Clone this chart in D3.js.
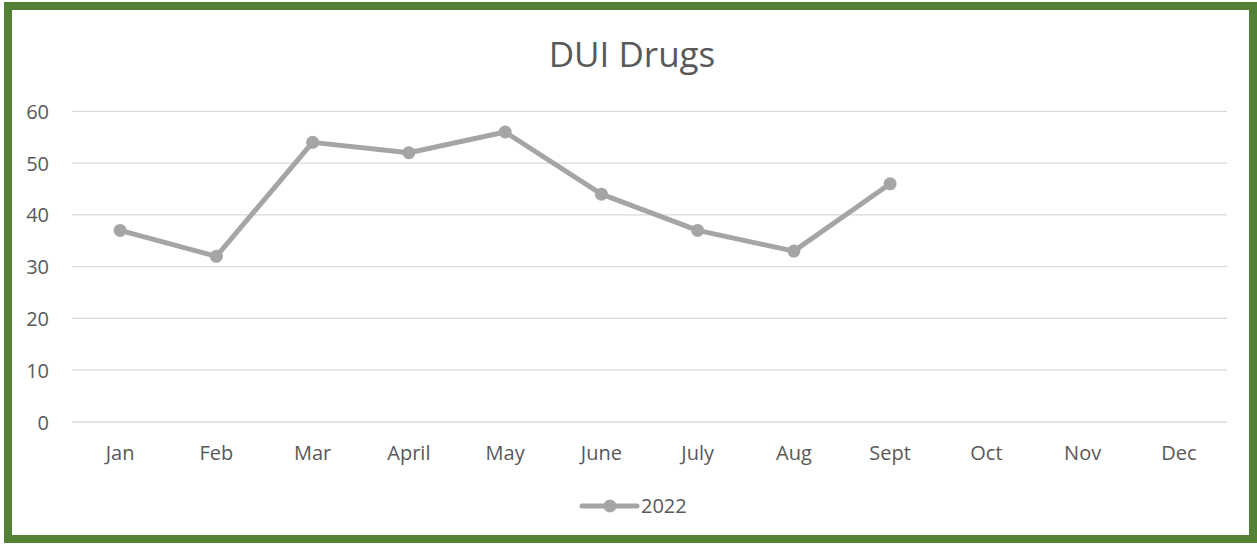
<!DOCTYPE html>
<html>
<head>
<meta charset="utf-8">
<script src="https://cdn.jsdelivr.net/npm/d3@7"></script>
<style>
  html, body { margin: 0; padding: 0; background: #fff; }
  svg { display: block; }
  text { font-family: "Segoe UI", "Open Sans", "Noto Sans", sans-serif; fill: #595959; }
</style>
</head>
<body>
<svg id="chart" width="1257" height="545"></svg>
<script>
const title = "DUI Drugs";
const categories = ["Jan", "Feb", "Mar", "April", "May", "June", "July", "Aug", "Sept", "Oct", "Nov", "Dec"];
const seriesName = "2022";
const values = [37, 32, 54, 52, 56, 44, 37, 33, 46, null, null, null];
const yTicks = [0, 10, 20, 30, 40, 50, 60];

(function () {
const svg = d3.select("#chart");
const W = 1257, H = 545;

svg.append("rect").attr("x", 0).attr("y", 0).attr("width", W).attr("height", H).attr("fill", "#fff");
svg.append("rect").attr("x", 8).attr("y", 6).attr("width", 1245).attr("height", 533)
  .attr("fill", "none").attr("stroke", "#548235").attr("stroke-width", 8);

const pl = 72, pr = 1227, pt = 111.3, pb = 422;
const x = d3.scaleBand().domain(categories).range([pl, pr]);
const y = d3.scaleLinear().domain([0, 60]).range([pb, pt]);

svg.append("text").attr("x", 632).attr("y", 67).attr("text-anchor", "middle")
  .style("font-size", "35px").text(title);

const grid = svg.append("g");
grid.selectAll("line").data(yTicks).join("line")
  .attr("x1", pl).attr("x2", pr)
  .attr("y1", d => y(d)).attr("y2", d => y(d))
  .attr("stroke", "#d9d9d9").attr("stroke-width", 1.3);

const yAxis = d3.axisLeft(y).tickValues(yTicks).tickSize(0).tickPadding(0);
const gy = svg.append("g").attr("transform", `translate(49,0)`).call(yAxis);
gy.select(".domain").remove();
gy.selectAll("text").style("font-size", "20px").attr("fill", "#595959").attr("dy", "0.35em");

const xAxis = d3.axisBottom(x).tickSize(0).tickPadding(0);
const gx = svg.append("g").attr("transform", `translate(0,${pb + 31})`).call(xAxis);
gx.select(".domain").remove();
gx.selectAll("text").style("font-size", "20px").attr("fill", "#595959").attr("dy", "0.35em");

const pts = categories.map((c, i) => ({c, v: values[i]})).filter(d => d.v != null);
const line = d3.line().x(d => x(d.c) + x.bandwidth() / 2).y(d => y(d.v));
svg.append("path").datum(pts).attr("d", line)
  .attr("fill", "none").attr("stroke", "#a5a5a5").attr("stroke-width", 5)
  .attr("stroke-linejoin", "round").attr("stroke-linecap", "round");
svg.append("g").selectAll("circle").data(pts).join("circle")
  .attr("cx", d => x(d.c) + x.bandwidth() / 2).attr("cy", d => y(d.v))
  .attr("r", 6.5).attr("fill", "#a5a5a5");

const lg = svg.append("g");
lg.append("line").attr("x1", 582).attr("x2", 637).attr("y1", 506).attr("y2", 506)
  .attr("stroke", "#a5a5a5").attr("stroke-width", 5).attr("stroke-linecap", "round");
lg.append("circle").attr("cx", 610).attr("cy", 506).attr("r", 6.5).attr("fill", "#a5a5a5");
lg.append("text").attr("x", 641).attr("y", 506).attr("dy", "0.35em")
  .style("font-size", "20px").text(seriesName);
})();
</script>
</body>
</html>
